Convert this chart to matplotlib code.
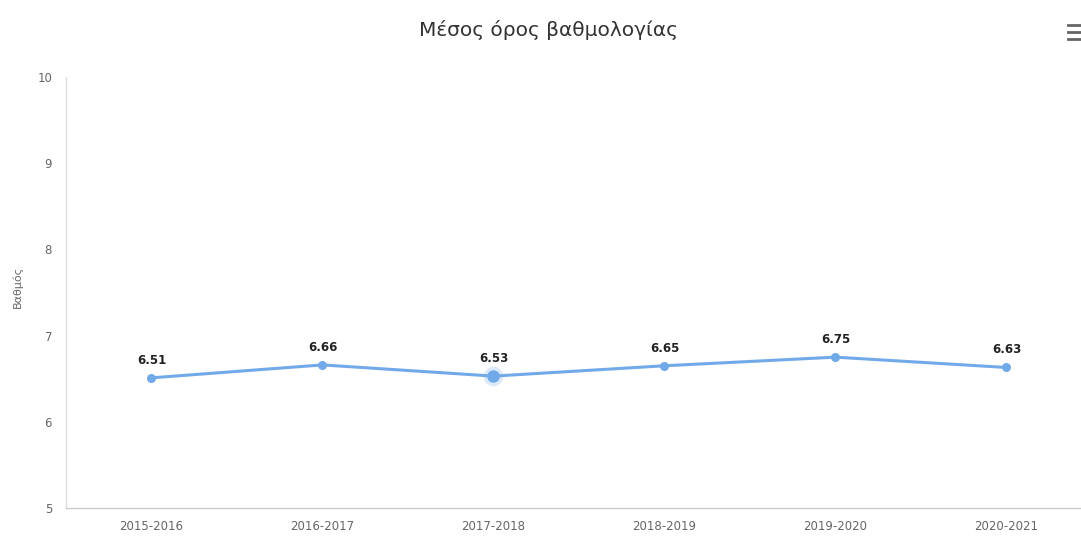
import matplotlib.pyplot as plt
import numpy as np

plt.rcParams['font.family'] = ['DejaVu Sans']

years = ['2015-2016', '2016-2017', '2017-2018', '2018-2019', '2019-2020', '2020-2021']
avg = [6.51, 6.66, 6.53, 6.65, 6.75, 6.63]

W, H = 1081, 536
fig = plt.figure(figsize=(W / 100, H / 100), dpi=100)
# plot area in pixels: left 66, right ~1092, top 77, bottom 508
ax = fig.add_axes([66 / W, (H - 508) / H, 1026 / W, 431 / H])

x = np.arange(len(years))
line_col = '#72aae9'
ax.plot(x, avg, color=line_col, lw=2.2, marker='o', ms=5.5, zorder=3)
# hover halo on 3rd point
ax.plot(x[2], avg[2], 'o', ms=14, color=line_col, alpha=0.25, mec='none', zorder=2)
ax.plot(x[2], avg[2], 'o', ms=8, color=line_col, zorder=4)

for xi, v in zip(x, avg):
    ax.annotate(f'{v:.2f}', (xi, v), xytext=(0, 8), textcoords='offset points',
                ha='center', va='bottom', fontsize=8.5, fontweight='bold', color='#222222')

ax.set_xlim(-0.5, len(years) - 0.5)
ax.set_ylim(5, 10)
ax.set_xticks(x)
ax.set_xticklabels(years, fontsize=8.5, color='#666666')
ax.set_yticks(range(5, 11))
ax.tick_params(axis='y', length=0, labelsize=8.5, labelcolor='#666666', pad=10)
ax.tick_params(axis='x', length=0, pad=9)

for s in ['top', 'right']:
    ax.spines[s].set_visible(False)
ax.spines['left'].set_color('#dddddd')
ax.spines['bottom'].set_color('#cccccc')
ax.spines['left'].set_linewidth(1)
ax.spines['bottom'].set_linewidth(1)

fig.text(18 / W, 1 - 287 / H, 'Βαθμός', rotation=90, ha='center', va='center',
         fontsize=8, color='#666666')

fig.text(548 / W, 1 - 30 / H, 'Μέσος όρος βαθμολογίας', ha='center', va='center',
         fontsize=14.5, color='#333333')

# menu icon
for yy in (25, 32, 39):
    fig.add_artist(plt.Line2D([1068 / W, 1081 / W], [(H - yy) / H] * 2,
                              color='#666666', lw=2))

fig.savefig('out.png', dpi=100)
